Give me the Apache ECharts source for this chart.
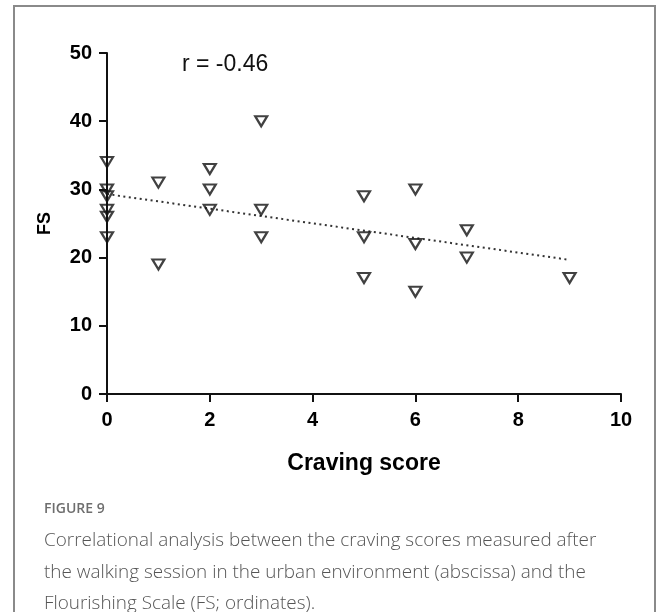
<!DOCTYPE html>
<html>
<head>
<meta charset="utf-8">
<script src="https://cdn.jsdelivr.net/npm/echarts@6/dist/echarts.min.js"></script>
<style>
  html, body { margin: 0; padding: 0; background: #fff; }
  #chart { width: 656px; height: 612px; }
</style>
</head>
<body>
<div id="chart"></div>
<script>
// Craving score (x) and Flourishing Scale score (y) for each participant
const cravingScores = [0, 0, 0, 0, 0, 0, 1, 1, 2, 2, 2, 3, 3, 3, 5, 5, 5, 6, 6, 6, 7, 7, 9];
const fsScores      = [34, 30, 29, 27, 26, 23, 31, 19, 33, 30, 27, 40, 27, 23, 29, 23, 17, 30, 22, 15, 24, 20, 17];
const xTicks = [0, 2, 4, 6, 8, 10];
const yTicks = [0, 10, 20, 30, 40, 50];
const correlationText = 'r = -0.46';
const captionLabel = 'FIGURE 9';
const captionLines = [
  'Correlational analysis between the craving scores measured after',
  'the walking session in the urban environment (abscissa) and the',
  'Flourishing Scale (FS; ordinates).'
];

// least-squares fit drawn across the observed craving range
const n = cravingScores.length;
const mx = cravingScores.reduce((a, b) => a + b, 0) / n;
const my = fsScores.reduce((a, b) => a + b, 0) / n;
let sxy = 0, sxx = 0;
for (let i = 0; i < n; i++) {
  sxy += (cravingScores[i] - mx) * (fsScores[i] - my);
  sxx += (cravingScores[i] - mx) ** 2;
}
const slope = sxy / sxx;
const intercept = my - slope * mx;
const xMinObs = Math.min(...cravingScores), xMaxObs = Math.max(...cravingScores);
const fitLine = [[xMinObs, intercept + slope * xMinObs], [xMaxObs, intercept + slope * xMaxObs]];

const points = cravingScores.map((x, i) => [x, fsScores[i]]);

const chart = echarts.init(document.getElementById('chart'), null, { renderer: 'canvas' });
const axisFont = 'Liberation Sans, Arial, sans-serif';

chart.setOption({
  backgroundColor: '#fff',
  animation: false,
  grid: { left: 107, right: 35, top: 53, bottom: 218, containLabel: false },
  xAxis: {
    type: 'value', min: xTicks[0], max: xTicks[xTicks.length - 1], interval: 2,
    name: 'Craving score', nameLocation: 'middle', nameGap: 58,
    nameTextStyle: { fontFamily: axisFont, fontWeight: 'bold', fontSize: 23, color: '#000' },
    axisLine: { show: true, onZero: false, lineStyle: { color: '#111', width: 2 } },
    axisTick: { show: true, length: 8, lineStyle: { color: '#111', width: 2 } },
    axisLabel: { fontFamily: axisFont, fontWeight: 'bold', fontSize: 20, color: '#000', margin: 16 },
    splitLine: { show: false }
  },
  yAxis: {
    type: 'value', min: yTicks[0], max: yTicks[yTicks.length - 1], interval: 10,
    name: 'FS', nameLocation: 'middle', nameGap: 53,
    nameTextStyle: { fontFamily: axisFont, fontWeight: 'bold', fontSize: 18, color: '#000' },
    axisLine: { show: true, onZero: false, lineStyle: { color: '#111', width: 2 } },
    axisTick: { show: true, length: 8, lineStyle: { color: '#111', width: 2 } },
    axisLabel: { fontFamily: axisFont, fontWeight: 'bold', fontSize: 20, color: '#000', margin: 15 },
    splitLine: { show: false }
  },
  series: [
    {
      type: 'line',
      data: fitLine,
      symbol: 'none',
      lineStyle: { color: '#333', width: 2, type: [2, 3.5] },
      z: 1,
      silent: true
    },
    {
      type: 'scatter',
      data: points,
      symbol: 'triangle',
      symbolRotate: 180,
      symbolSize: [12, 10],
      itemStyle: { color: 'rgba(255,255,255,0)', borderColor: '#111', borderWidth: 2.2 },
      z: 3
    }
  ],
  graphic: [
    {
      type: 'rect', left: 13, top: 5, z: -1,
      shape: { width: 641, height: 640 },
      style: { fill: '#fff', stroke: '#8a8a8a', lineWidth: 2 }
    },
    {
      type: 'text', left: 182, top: 53,
      style: { text: correlationText, font: '23px ' + axisFont, fill: '#111' }
    },
    {
      type: 'text', left: 44, top: 502,
      style: { text: captionLabel, font: '600 14px "Open Sans", sans-serif', fill: '#6e6e6e' }
    },
    ...captionLines.map((line, i) => ({
      type: 'text', left: 44, top: 531 + i * 31.7,
      style: { text: line, font: '300 18.9px "Open Sans", sans-serif', fill: '#555' }
    }))
  ]
});
</script>
</body>
</html>
